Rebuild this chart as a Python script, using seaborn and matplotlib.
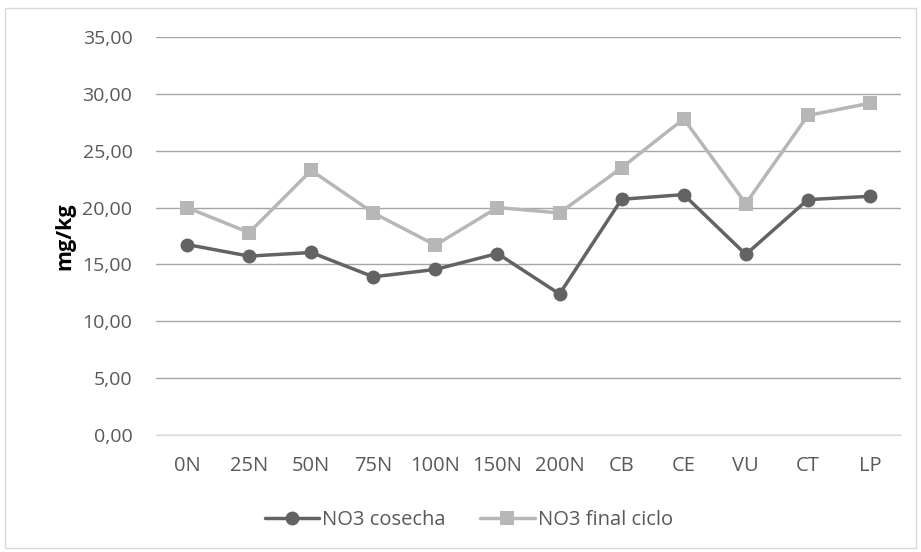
import pandas as pd
import matplotlib.pyplot as plt
import seaborn as sns
from matplotlib.patches import Rectangle

# Datos
tratamientos = ["0N", "25N", "50N", "75N", "100N", "150N", "200N", "CB", "CE", "VU", "CT", "LP"]
no3_cosecha = [16.75, 15.73, 16.05, 13.91, 14.56, 15.96, 12.40, 20.73, 21.14, 15.88, 20.70, 20.99]
no3_final = [20.00, 17.80, 23.27, 19.53, 16.70, 20.00, 19.53, 23.50, 27.80, 20.35, 28.10, 29.18]

df = pd.DataFrame({
    "tratamiento": tratamientos * 2,
    "valor": no3_cosecha + no3_final,
    "serie": ["NO3 cosecha"] * len(tratamientos) + ["NO3 final ciclo"] * len(tratamientos),
})

sns.set_style("white")
plt.rcParams["font.family"] = ["Open Sans", "DejaVu Sans"]

fig = plt.figure(figsize=(9.21, 5.52), dpi=100)
ax = fig.add_axes([156 / 921, 1 - 435 / 552, 745 / 921, 398 / 552])

sns.lineplot(data=df, x="tratamiento", y="valor", hue="serie", style="serie",
             palette=["#636363", "#b7b7b7"], markers=["o", "s"], dashes=False,
             linewidth=2.5, markersize=10, markeredgewidth=0, sort=False, ax=ax)

ax.set_xlim(-0.5, len(tratamientos) - 0.5)
ax.set_ylim(0, 35)
ax.set_yticks(range(0, 36, 5))
ax.set_yticklabels([f"{v},00" for v in range(0, 36, 5)])
ax.grid(axis="y", color="#a6a6a6", linewidth=1)
ax.set_axisbelow(True)
for s in ["top", "right", "left"]:
    ax.spines[s].set_visible(False)
ax.spines["bottom"].set_color("#d9d9d9")
ax.tick_params(axis="y", length=0, labelsize=14, labelcolor="#595959", pad=17)
ax.tick_params(axis="x", length=0, labelsize=14.5, labelcolor="#595959", pad=15)
ax.set_xlabel("")
ax.set_ylabel("mg/kg", fontsize=15.5, fontweight="bold", color="black", labelpad=5)

leg = ax.legend(loc="center", bbox_to_anchor=(0.42, -0.214), ncol=2, frameon=False,
                fontsize=14.5, handlelength=2.7, columnspacing=1.7, handletextpad=0.15)
for t in leg.get_texts():
    t.set_color("#595959")

fig.patches.append(Rectangle((5 / 921, 4 / 552), 911 / 921, 540 / 552, transform=fig.transFigure,
                             fill=False, edgecolor="#d9d9d9", linewidth=1))

plt.savefig("out.png", dpi=100)
plt.close()
